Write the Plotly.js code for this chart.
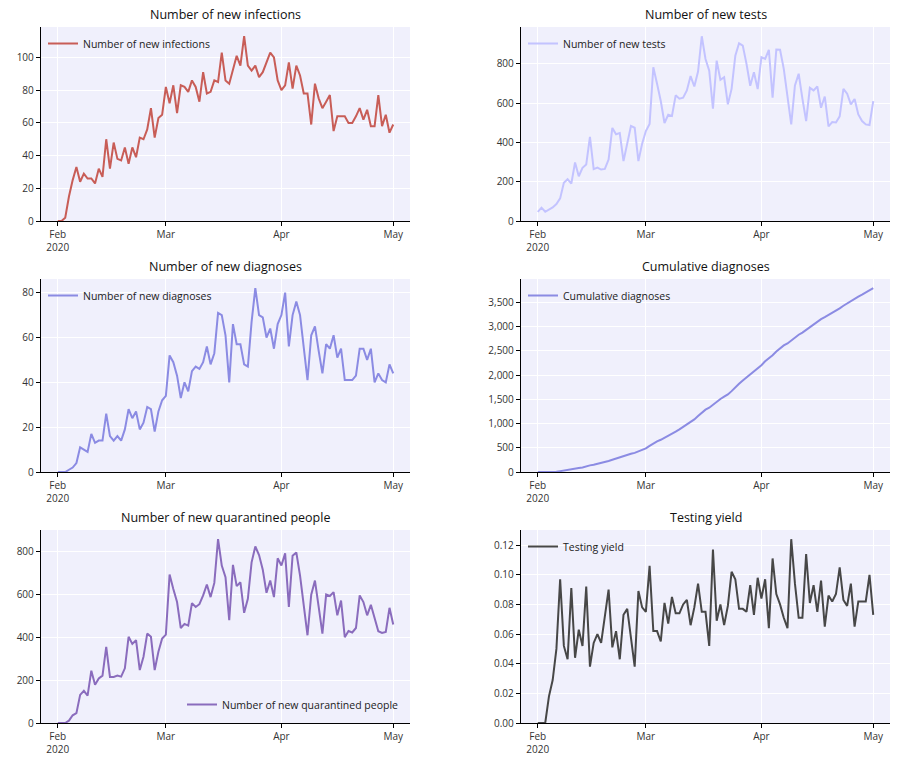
<!DOCTYPE html>
<html>
<head>
<meta charset="utf-8">
<script src="https://cdn.plot.ly/plotly-3.0.1.min.js"></script>
<style>html,body{margin:0;padding:0;background:#fff;}#chart{width:899px;height:769px;}</style>
</head>
<body>
<div id="chart"></div>
<script>
// ---- data (daily, 2020-02-01 .. 2020-05-01) ----
const startDate = '2020-02-01';
const numDays = 91;

const newInfections = [
  0,0,2,15,25,33,24,29,26,26,
  23,32,27,50,32,48,38,37,45,35,
  45,39,51,50,56,69,51,63,65,82,
  72,83,66,83,82,79,86,82,73,91,
  78,79,86,85,103,86,84,93,101,95,
  113,95,92,95,88,91,97,103,100,86,
  80,83,97,81,95,89,78,78,59,84,
  75,69,73,77,55,64,64,64,60,60,
  64,69,62,68,58,58,77,58,65,54,
  59
];

const newTests = [
  46,68,47,59,69,86,115,195,213,190,
  298,228,271,288,428,264,272,262,265,313,
  474,442,448,305,389,484,475,305,394,458,
  494,783,699,611,499,541,535,640,623,628,
  665,738,685,761,941,825,766,572,817,719,
  732,594,673,842,905,893,800,689,758,672,
  834,826,872,628,873,872,775,640,492,690,
  750,623,509,678,665,685,577,634,482,504,
  502,533,673,648,594,621,543,509,492,489,
  611
];

const newDiagnoses = [
  0,0,0,1,2,4,11,10,9,17,
  13,14,14,26,16,14,16,14,19,28,
  24,27,19,22,29,28,18,27,32,34,
  52,49,43,33,40,36,45,47,46,49,
  56,48,53,71,70,61,40,66,57,57,
  48,47,67,82,70,69,60,64,55,66,
  70,80,56,70,76,70,55,41,61,65,
  54,44,57,55,61,51,55,41,41,41,
  43,55,55,50,55,40,44,41,40,48,
  44
];

const cumulativeDiagnoses = [
  0,0,0,1,3,7,18,28,37,54,
  67,81,95,121,137,151,167,181,200,228,
  252,279,298,320,349,377,395,422,454,488,
  540,589,632,665,705,741,786,833,879,928,
  984,1032,1085,1156,1226,1287,1327,1393,1450,1507,
  1555,1602,1669,1751,1821,1890,1950,2014,2069,2135,
  2205,2285,2341,2411,2487,2557,2612,2653,2714,2779,
  2833,2877,2934,2989,3050,3101,3156,3197,3238,3279,
  3322,3377,3432,3482,3537,3577,3621,3662,3702,3750,
  3794
];

const newQuarantined = [
  0,0,0,11,36,46,131,150,128,244,
  178,208,221,355,215,215,221,216,255,402,
  369,386,247,309,417,402,247,332,394,412,
  692,625,564,443,462,454,559,541,554,595,
  646,587,653,857,734,680,479,737,638,656,
  514,579,749,823,783,715,607,664,587,768,
  734,791,541,780,795,687,548,409,598,664,
  541,417,599,592,610,502,571,400,429,422,
  443,595,564,502,551,486,428,420,425,537,
  459
];

const testingYield = [
  0,0,0,0.018,0.029,0.050,0.097,0.052,0.043,0.091,
  0.044,0.063,0.052,0.092,0.038,0.054,0.060,0.054,0.071,0.090,
  0.051,0.062,0.043,0.073,0.077,0.059,0.038,0.089,0.078,0.075,
  0.106,0.062,0.062,0.055,0.081,0.067,0.085,0.074,0.074,0.080,
  0.083,0.066,0.078,0.094,0.075,0.075,0.052,0.117,0.069,0.080,
  0.066,0.079,0.102,0.097,0.077,0.077,0.075,0.093,0.073,0.098,
  0.084,0.097,0.064,0.111,0.087,0.080,0.071,0.064,0.124,0.094,
  0.071,0.071,0.114,0.081,0.093,0.075,0.096,0.065,0.086,0.082,
  0.087,0.105,0.083,0.079,0.094,0.065,0.082,0.082,0.082,0.100,
  0.073
];

const panelTitles = ['Number of new infections','Number of new tests','Number of new diagnoses',
                     'Cumulative diagnoses','Number of new quarantined people','Testing yield'];
const seriesNames = panelTitles;
const seriesData = [newInfections,newTests,newDiagnoses,cumulativeDiagnoses,newQuarantined,testingYield];

const xTickVals = ['2020-02-01','2020-03-01','2020-04-01','2020-05-01'];
const xTickText = ['Feb<br>2020','Mar','Apr','May'];

// ---- styles ----
const colors = ['#c85d57','#c3c3ff','#8b8be3','#8b8be3','#8a6cbd','#474747'];
const yDticks = [20,200,20,500,200,0.02];
const yFormats = ['d',',d','d',',d',',d','.2f'];

// dates
const dates = [];
{
  const d0 = new Date(startDate + 'T00:00:00Z');
  for (let i = 0; i < numDays; i++) {
    const d = new Date(d0.getTime() + i*86400000);
    dates.push(d.toISOString().slice(0,10));
  }
}

const W = 899, H = 769;
const colDom = [[41/W, 410/W],[521/W, 890/W]];
const rowDom = [[1-221/H, 1-27/H],[1-472/H, 1-279/H],[1-723/H, 1-530/H]];

const FONT = '"Open Sans", Lato, sans-serif';
const traces = [];
const layout = {
  width: W, height: H,
  margin: {l:0,r:0,t:0,b:0},
  paper_bgcolor: '#ffffff',
  plot_bgcolor: '#f0f0fc',
  showlegend: true,
  font: {family: FONT, size: 10, color: '#333333'},
  annotations: []
};

for (let i = 0; i < 6; i++) {
  const n = i + 1;
  const r = Math.floor(i/2), c = i % 2;
  const xa = n === 1 ? 'xaxis' : 'xaxis' + n;
  const ya = n === 1 ? 'yaxis' : 'yaxis' + n;
  const lg = n === 1 ? 'legend' : 'legend' + n;
  const ymax = Math.max(...seriesData[i]) * 1.05;
  traces.push({
    x: dates, y: seriesData[i], type: 'scatter', mode: 'lines',
    name: seriesNames[i],
    line: {color: colors[i], width: 2},
    xaxis: 'x' + (n === 1 ? '' : n), yaxis: 'y' + (n === 1 ? '' : n),
    legend: lg
  });
  layout[xa] = {
    domain: colDom[c], anchor: 'y' + (n === 1 ? '' : n), type: 'date',
    range: ['2020-01-27 12:00', '2020-05-05 12:00'],
    tickvals: xTickVals, ticktext: xTickText,
    showline: true, linecolor: '#000', linewidth: 1.2,
    ticks: 'outside', ticklen: 4, tickwidth: 1, tickcolor: '#000',
    showgrid: true, gridcolor: '#ffffff', gridwidth: 1,
    zeroline: false, tickfont: {family: FONT, size: 10, color: '#333'}
  };
  layout[ya] = {
    domain: rowDom[r], anchor: 'x' + (n === 1 ? '' : n),
    range: [0, ymax], dtick: yDticks[i], tick0: 0, tickformat: yFormats[i],
    showline: true, linecolor: '#000', linewidth: 1.2,
    ticks: 'outside', ticklen: 4, tickwidth: 1, tickcolor: '#000',
    showgrid: true, gridcolor: '#ffffff', gridwidth: 1,
    zeroline: false, tickfont: {family: FONT, size: 10, color: '#333'}
  };
  const lowerRight = (i === 4);
  layout[lg] = {
    x: lowerRight ? colDom[c][1] - 6/W : colDom[c][0] + 2/W,
    y: lowerRight ? rowDom[r][0] + 4/H : rowDom[r][1] - 2/H,
    xanchor: lowerRight ? 'right' : 'left',
    yanchor: lowerRight ? 'bottom' : 'top',
    bgcolor: 'rgba(0,0,0,0)', borderwidth: 0,
    font: {family: FONT, size: 10.5, color: '#222'},
    itemwidth: 30
  };
  layout.annotations.push({
    xref: 'x' + (n === 1 ? '' : n) + ' domain', yref: 'y' + (n === 1 ? '' : n) + ' domain',
    x: 0.5, y: 1, xanchor: 'center', yanchor: 'bottom', yshift: 2,
    text: panelTitles[i], showarrow: false,
    font: {family: FONT, size: 12.5, color: '#111'}
  });
}

Plotly.newPlot('chart', traces, layout, {displayModeBar: false, staticPlot: true});
</script>
</body>
</html>
